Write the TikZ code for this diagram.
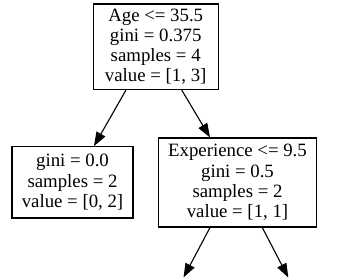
\documentclass[tikz,border=0pt]{standalone}
\usepackage{fontspec}
\setmainfont{Liberation Serif}
\usetikzlibrary{arrows.meta}
\newcommand{\treefont}{\fontsize{18.8}{20.3}\selectfont}
\begin{document}
\begin{tikzpicture}[x=1pt,y=-1pt,
  treebox/.style={draw=black, line width=1.1pt, align=center, inner sep=0pt,
    font=\treefont},
  arr/.style={draw=black, line width=1.1pt, -{Triangle[length=14pt,width=10pt]}}]
\useasboundingbox (0,0) rectangle (364,277);
\clip (0,0) rectangle (364,277);
\fill[white] (0,0) rectangle (364,277);
\node[treebox, minimum width=124.7pt, minimum height=85.5pt] (root) at (155.7,46.7)
  {Age <= 35.5\\gini = 0.375\\samples = 4\\value = [1, 3]};
\node[treebox, minimum width=121pt, minimum height=71.3pt] (left) at (72.5,182.3)
  {gini = 0.0\\samples = 2\\value = [0, 2]};
\node[treebox, minimum width=158.4pt, minimum height=89pt] (right) at (237.5,182.5)
  {Experience <= 9.5\\gini = 0.5\\samples = 2\\value = [1, 1]};
\coordinate (ll) at (183.5,277.5);
\coordinate (rr) at (288.3,277.5);
\draw[arr] ([xshift=-29.7pt]root.south) -- ([xshift=21.5pt]left.north);
\draw[arr] ([xshift=26pt]root.south) -- ([xshift=-27.5pt]right.north);
\draw[arr] ([xshift=-27.5pt]right.south) -- (ll);
\draw[arr] ([xshift=24.8pt]right.south) -- (rr);
\end{tikzpicture}
\end{document}
